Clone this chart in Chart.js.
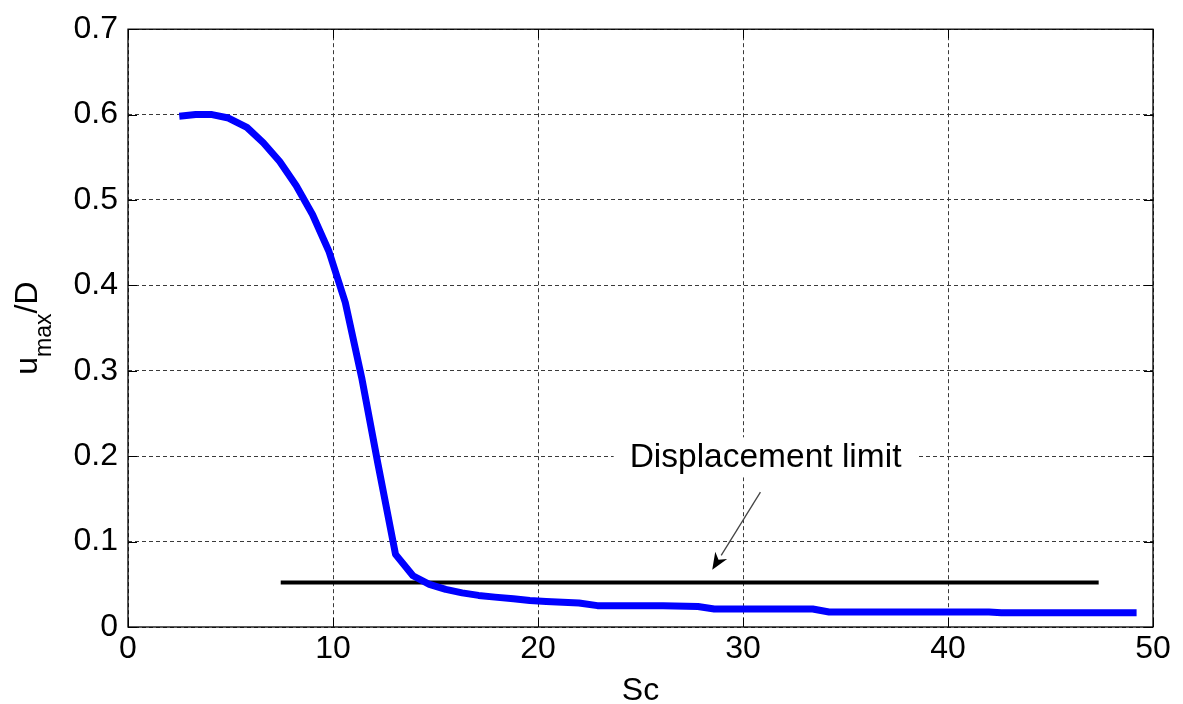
<!DOCTYPE html>
<html>
<head>
<meta charset="utf-8">
<script src="https://cdn.jsdelivr.net/npm/chart.js@4/dist/chart.umd.min.js"></script>
<style>
  html, body { margin: 0; padding: 0; background: #ffffff; }
  #wrap { width: 1183px; height: 704px; }
</style>
</head>
<body>
<div id="wrap"><canvas id="c" width="1183" height="704"></canvas></div>
<script>
// ---- data ----
const sc = [2.5, 3.3, 4.1, 4.9, 5.8, 6.6, 7.4, 8.2, 9.0, 9.8, 10.6, 11.4, 12.2, 13.05,
            13.9, 14.7, 15.5, 16.3, 17.1, 17.9, 18.8, 19.6, 20.4, 21.2, 22.0, 22.9,
            24.5, 26.1, 27.8, 28.6, 30.2, 31.8, 33.4, 34.2, 36.0, 38.0, 40.0, 42.0,
            42.6, 44.5, 46.5, 49.2];
const umaxD = [0.598, 0.600, 0.600, 0.596, 0.585, 0.567, 0.545, 0.517, 0.483, 0.440, 0.380, 0.292, 0.190, 0.085,
               0.060, 0.050, 0.044, 0.040, 0.037, 0.035, 0.033, 0.031, 0.030, 0.029, 0.028, 0.025,
               0.025, 0.025, 0.024, 0.021, 0.021, 0.021, 0.021, 0.0175, 0.0175, 0.0175, 0.0175, 0.0175,
               0.0167, 0.0167, 0.0167, 0.0167];
const limitX = [7.45, 47.35];
const limitY = [0.052, 0.052];
const xTicks = [0, 10, 20, 30, 40, 50];
const yTicks = [0, 0.1, 0.2, 0.3, 0.4, 0.5, 0.6, 0.7];
const annotText = 'Displacement limit';
const annotPos = [31.1, 0.187];          // text centre x, baseline y (data units)
const arrowFrom = [30.85, 0.158];
const arrowTo = [28.5, 0.067];
const xTitle = 'Sc';

const FONT = '"Liberation Sans", Arial, Helvetica, sans-serif';

const boxPlugin = {
  id: 'matlabBox',
  afterDatasetsDraw(chart) {
    const ctx = chart.ctx, a = chart.chartArea;
    const xs = chart.scales.x, ys = chart.scales.y;
    ctx.save();
    ctx.strokeStyle = '#000';
    ctx.lineWidth = 1.3;
    ctx.setLineDash([]);
    ctx.strokeRect(a.left, a.top, a.right - a.left, a.bottom - a.top);
    const tl = 9;
    ctx.lineWidth = 1;
    ctx.beginPath();
    xTicks.forEach(v => {
      const px = Math.round(xs.getPixelForValue(v)) + 0.5;
      ctx.moveTo(px, a.bottom); ctx.lineTo(px, a.bottom - tl);
      ctx.moveTo(px, a.top); ctx.lineTo(px, a.top + tl);
    });
    yTicks.forEach(v => {
      const py = Math.round(ys.getPixelForValue(v)) + 0.5;
      ctx.moveTo(a.left, py); ctx.lineTo(a.left + tl, py);
      ctx.moveTo(a.right, py); ctx.lineTo(a.right - tl, py);
    });
    ctx.stroke();

    // annotation text with white background
    ctx.font = '33.5px ' + FONT;
    const tx = xs.getPixelForValue(annotPos[0]);
    const ty = ys.getPixelForValue(annotPos[1]);
    const w = ctx.measureText(annotText).width;
    ctx.fillStyle = '#fff';
    ctx.fillRect(tx - w / 2 - 16, ty - 30, w + 32, 40);
    ctx.fillStyle = '#000';
    ctx.textAlign = 'center';
    ctx.textBaseline = 'alphabetic';
    ctx.fillText(annotText, tx, ty);

    // arrow
    const x1 = xs.getPixelForValue(arrowFrom[0]), y1 = ys.getPixelForValue(arrowFrom[1]);
    const x2 = xs.getPixelForValue(arrowTo[0]), y2 = ys.getPixelForValue(arrowTo[1]);
    const ang = Math.atan2(y2 - y1, x2 - x1);
    const hl = 17, hw = 7;
    const bx = x2 - hl * Math.cos(ang), by = y2 - hl * Math.sin(ang);
    ctx.strokeStyle = '#444';
    ctx.lineWidth = 1.3;
    ctx.beginPath();
    ctx.moveTo(x1, y1); ctx.lineTo(bx, by);
    ctx.stroke();
    ctx.fillStyle = '#000';
    ctx.beginPath();
    ctx.moveTo(x2, y2);
    ctx.lineTo(bx + hw * Math.sin(ang), by - hw * Math.cos(ang));
    ctx.lineTo(x2 - (hl * 0.7) * Math.cos(ang), y2 - (hl * 0.7) * Math.sin(ang));
    ctx.lineTo(bx - hw * Math.sin(ang), by + hw * Math.cos(ang));
    ctx.closePath();
    ctx.fill();

    // x title
    ctx.font = '32px ' + FONT;
    ctx.textAlign = 'center';
    ctx.textBaseline = 'alphabetic';
    ctx.fillText(xTitle, (a.left + a.right) / 2, 700);

    // y title: u_max/D rotated
    const cy = (a.top + a.bottom) / 2;
    ctx.translate(37, cy);
    ctx.rotate(-Math.PI / 2);
    ctx.textAlign = 'left';
    const mainF = '32px ' + FONT, subF = '23px ' + FONT;
    ctx.font = mainF; const wu = ctx.measureText('u').width; const ws = ctx.measureText('/D').width;
    ctx.font = subF; const wm = ctx.measureText('max').width;
    const total = wu + wm + ws;
    let x0 = -total / 2;
    ctx.font = mainF; ctx.fillText('u', x0, 0); x0 += wu;
    ctx.font = subF; ctx.fillText('max', x0, 14); x0 += wm;
    ctx.font = mainF; ctx.fillText('/D', x0, 0);
    ctx.restore();
  }
};

new Chart(document.getElementById('c'), {
  type: 'line',
  data: {
    datasets: [
      {
        label: 'umax/D',
        data: sc.map((x, i) => ({ x, y: umaxD[i] })),
        borderColor: '#0000ff',
        borderWidth: 7,
        pointRadius: 0,
        fill: false,
        tension: 0,
        borderJoinStyle: 'round'
      },
      {
        label: 'Displacement limit',
        data: limitX.map((x, i) => ({ x, y: limitY[i] })),
        borderColor: '#000000',
        borderWidth: 4,
        pointRadius: 0,
        fill: false
      }
    ]
  },
  options: {
    responsive: false,
    animation: false,
    devicePixelRatio: 1,
    layout: { padding: { left: 0, top: 26, right: 30, bottom: 0 } },
    plugins: { legend: { display: false }, tooltip: { enabled: false } },
    scales: {
      x: {
        type: 'linear', min: 0, max: 50,
        afterBuildTicks: s => { s.ticks = xTicks.map(v => ({ value: v })); },
        ticks: { color: '#000', padding: 3, font: { size: 32, family: FONT }, callback: v => String(v) },
        grid: { color: '#3a3a3a', lineWidth: 1, drawTicks: false },
        border: { display: false, dash: [4, 3] },
        afterFit: s => { s.height = 77; }
      },
      y: {
        type: 'linear', min: 0, max: 0.7,
        afterBuildTicks: s => { s.ticks = yTicks.map(v => ({ value: v })); },
        ticks: { color: '#000', padding: 10, font: { size: 32, family: FONT }, callback: v => (Math.round(v * 10) / 10).toString() },
        grid: { color: '#3a3a3a', lineWidth: 1, drawTicks: false },
        border: { display: false, dash: [4, 3] },
        afterFit: s => { s.width = 128; }
      }
    }
  },
  plugins: [boxPlugin]
});
</script>
</body>
</html>
